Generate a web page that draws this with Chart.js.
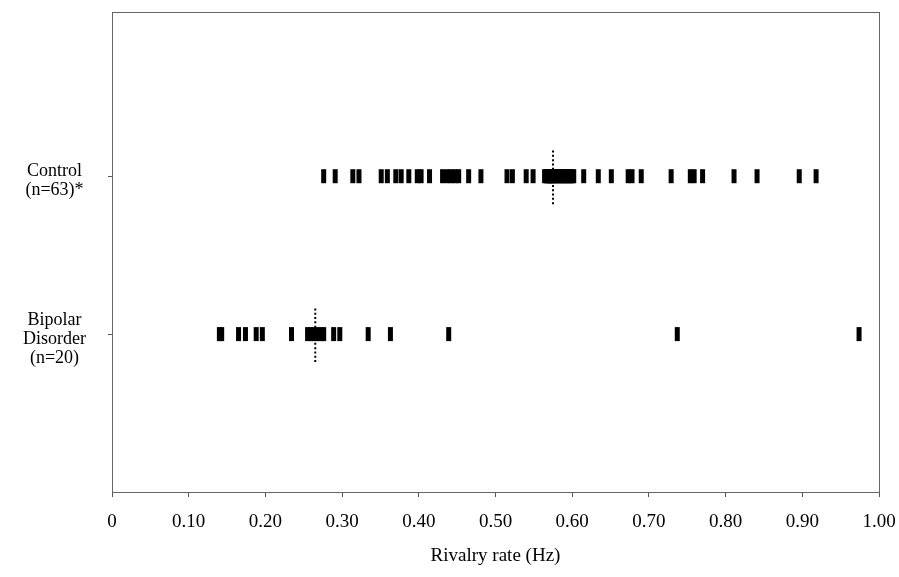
<!DOCTYPE html>
<html lang="en">
<head>
  <meta charset="UTF-8">
  <title>Rivalry rate</title>
  <script src="https://cdn.jsdelivr.net/npm/chart.js"></script>
  <style>
    html, body { margin: 0; padding: 0; background: #fff; }
    #wrap { width: 899px; height: 577px; }
  </style>
</head>
<body>
  <div id="wrap"><canvas id="chart"></canvas></div>
  <script>
    // rows (y position on the value axis) and their labels
    const groupRows = [2, 1];
    const groupLabels = [['Control', '(n=63)*'], ['Bipolar', 'Disorder', '(n=20)']];

    // individual rivalry rates (Hz)
    const controlRates = [
      0.276, 0.291, 0.314, 0.322, 0.351, 0.359, 0.370, 0.377, 0.387, 0.398,
      0.403, 0.414, 0.431, 0.437, 0.442, 0.447, 0.452, 0.465, 0.481, 0.515,
      0.522, 0.540, 0.549,
      0.564, 0.566, 0.567, 0.569, 0.570, 0.571, 0.572, 0.573, 0.574, 0.576,
      0.577, 0.579, 0.580, 0.582, 0.584, 0.585, 0.587, 0.589, 0.590, 0.592,
      0.594, 0.595, 0.597, 0.599, 0.600, 0.602,
      0.615, 0.634, 0.651, 0.673, 0.678, 0.690, 0.729, 0.754, 0.759, 0.770,
      0.811, 0.841, 0.896, 0.918
    ];
    const bipolarRates = [
      0.140, 0.143, 0.165, 0.174, 0.188, 0.196, 0.234,
      0.255, 0.259, 0.263, 0.267, 0.272, 0.276,
      0.289, 0.297, 0.334, 0.363, 0.439, 0.737, 0.974
    ];

    // group medians (dotted lines)
    const medians = [0.575, 0.265];
    const medianHalfSpan = 0.177;

    const xTickLabels = ['0', '0.10', '0.20', '0.30', '0.40', '0.50', '0.60', '0.70', '0.80', '0.90', '1.00'];
    const xTitle = 'Rivalry rate (Hz)';

    const serif = 'Liberation Serif';

    function rowPoints(rates, row) {
      return rates.map(v => ({ x: v, y: row }));
    }

    const markStyle = {
      pointStyle: 'line',
      rotation: 90,
      pointRadius: 7,
      pointHoverRadius: 7,
      pointBorderWidth: 5,
      pointBorderColor: '#000',
      pointBackgroundColor: '#000',
      showLine: false,
      order: 1
    };

    const datasets = [
      Object.assign({ label: 'Control', data: rowPoints(controlRates, groupRows[0]) }, markStyle),
      Object.assign({ label: 'Bipolar', data: rowPoints(bipolarRates, groupRows[1]) }, markStyle)
    ];
    medians.forEach((m, i) => {
      datasets.push({
        label: 'median ' + i,
        data: [{ x: m, y: groupRows[i] - medianHalfSpan }, { x: m, y: groupRows[i] + medianHalfSpan }],
        showLine: true,
        borderColor: '#000',
        borderWidth: 2,
        borderDash: [2, 2.3],
        pointRadius: 0,
        order: 2
      });
    });

    const boxBorder = {
      id: 'boxBorder',
      afterDraw(chart) {
        const a = chart.chartArea;
        const c = chart.ctx;
        c.save();
        c.strokeStyle = '#666';
        c.lineWidth = 1;
        c.strokeRect(Math.round(a.left) + 0.5, Math.round(a.top) + 0.5,
          Math.round(a.right - a.left), Math.round(a.bottom - a.top));
        c.restore();
      }
    };

    new Chart(document.getElementById('chart'), {
      type: 'scatter',
      data: { datasets },
      plugins: [boxBorder],
      options: {
        responsive: true,
        maintainAspectRatio: false,
        animation: false,
        layout: { padding: { top: 10, right: 20, bottom: 0, left: 0 } },
        plugins: { legend: { display: false }, tooltip: { enabled: false } },
        scales: {
          x: {
            type: 'linear',
            min: 0,
            max: 1,
            afterBuildTicks: s => { s.ticks = xTickLabels.map((t, i) => ({ value: i / 10 })); },
            afterFit: s => { s.height = 85; s.paddingLeft = 0; s.paddingRight = 0; },
            ticks: {
              color: '#000',
              font: { family: serif, size: 19 },
              padding: 14,
              maxRotation: 0,
              callback: (v, i) => xTickLabels[i]
            },
            grid: { drawOnChartArea: false, tickLength: 5, color: '#555' },
            border: { color: '#666' },
            title: {
              display: true,
              text: xTitle,
              color: '#000',
              font: { family: serif, size: 19 },
              padding: { top: 10, bottom: 10 }
            }
          },
          y: {
            type: 'linear',
            min: 0,
            max: 3.04,
            afterFit: s => { s.width = 112; s.paddingTop = 0; s.paddingBottom = 0; },
            afterBuildTicks: s => { s.ticks = groupRows.map(r => ({ value: r })); },
            ticks: {
              color: '#000',
              font: { family: serif, size: 18, lineHeight: 1.05 },
              crossAlign: 'center',
              padding: 22,
              labelOffset: 5,
              callback: v => groupLabels[groupRows.indexOf(v)]
            },
            grid: { drawOnChartArea: false, tickLength: 4, color: '#555' },
            border: { color: '#666' }
          }
        }
      }
    });
  </script>
</body>
</html>
